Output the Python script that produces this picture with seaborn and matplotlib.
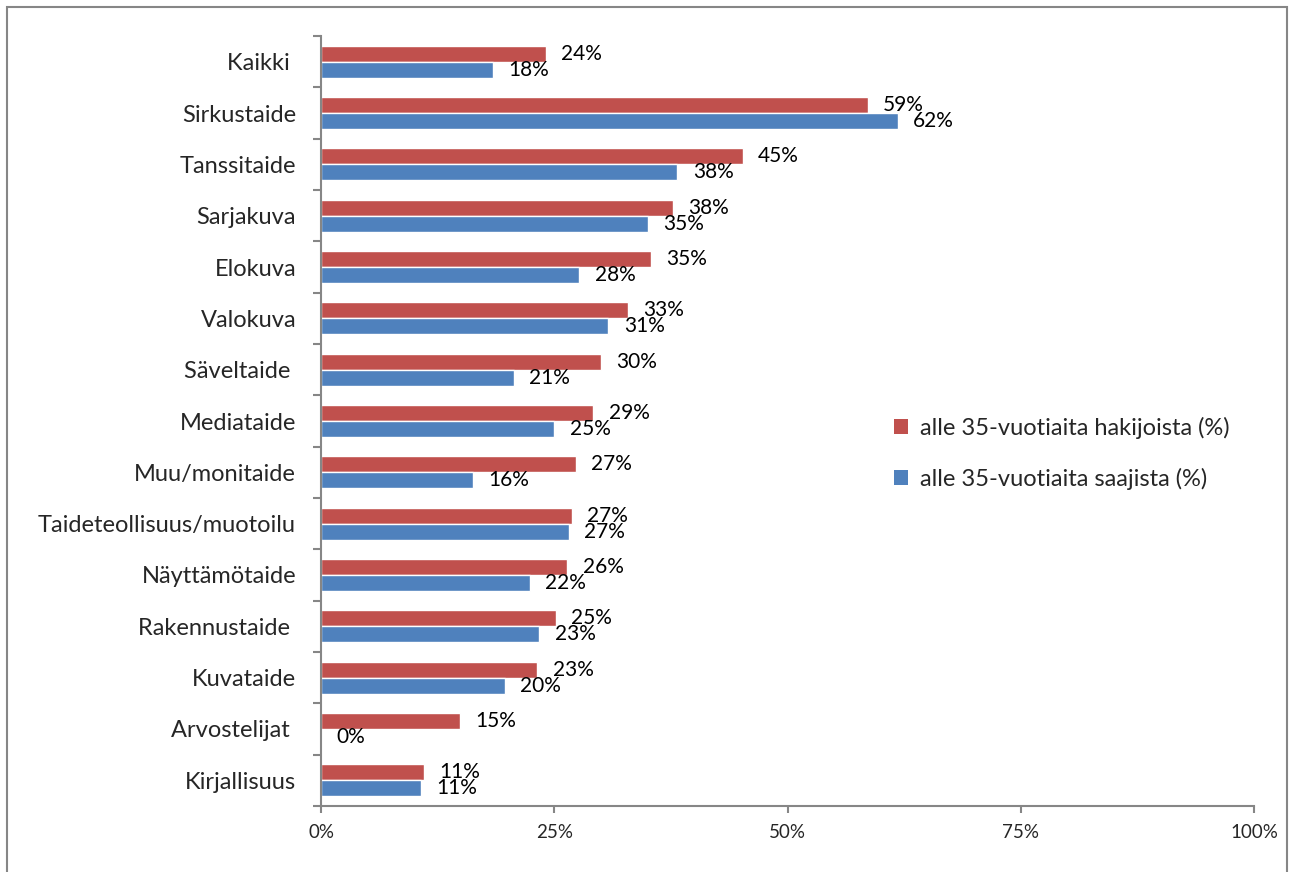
import pandas as pd
import seaborn as sns
import matplotlib.pyplot as plt
from matplotlib.patches import Patch, Rectangle
from matplotlib.ticker import FuncFormatter


# taiteenalat (ylhäältä alas)
alat = ["Kaikki ", "Sirkustaide", "Tanssitaide", "Sarjakuva", "Elokuva",
        "Valokuva", "Säveltaide ", "Mediataide", "Muu/monitaide",
        "Taideteollisuus/muotoilu", "Näyttämötaide", "Rakennustaide ",
        "Kuvataide", "Arvostelijat ", "Kirjallisuus"]
# alle 35-vuotiaita hakijoista (%)
hakijat = [24.1, 58.6, 45.2, 37.7, 35.4, 32.9, 30.0, 29.2, 27.3, 26.9,
           26.4, 25.2, 23.2, 14.9, 11.0]
# alle 35-vuotiaita saajista (%)
saajat = [18.4, 61.8, 38.2, 35.0, 27.7, 30.8, 20.7, 25.0, 16.3, 26.6,
          22.4, 23.4, 19.7, 0.0, 10.7]
sarjat = ["alle 35-vuotiaita hakijoista (%)", "alle 35-vuotiaita saajista (%)"]
varit = ["#C0504D", "#4F81BD"]

df = pd.concat([
    pd.DataFrame({"ala": alat, "osuus": hakijat, "sarja": sarjat[0]}),
    pd.DataFrame({"ala": alat, "osuus": saajat, "sarja": sarjat[1]}),
])

sns.set_style("white")
plt.rcParams['font.family'] = ['Lato', 'DejaVu Sans']

fig = plt.figure(figsize=(12.93, 8.72), dpi=100)
ax = fig.add_axes([0.2483, 0.0757, 0.7215, 0.883])

sns.barplot(data=df, x="osuus", y="ala", hue="sarja", hue_order=sarjat,
            palette=varit, orient="h", width=0.62, saturation=1,
            legend=False, ax=ax)

# arvot palkkien perään
for cont in ax.containers:
    ax.bar_label(cont, labels=[f"{b.get_width():.0f}%" for b in cont],
                 padding=11, fontsize=15, color="black")

ax.set_xlim(0, 100)
ax.set_ylim(len(alat) - 0.5, -0.5)
ax.set_xticks([0, 25, 50, 75, 100])
ax.xaxis.set_major_formatter(FuncFormatter(lambda v, p: f"{v:.0f}%"))
ax.set_xlabel("")
ax.set_ylabel("")

# Excel-tyyliset tikit luokkien rajoilla
ax.set_yticks(range(len(alat)))
ax.set_yticklabels(alat)
ax.set_yticks([i - 0.5 for i in range(len(alat) + 1)], minor=True)
ax.tick_params(axis="y", which="major", length=0, pad=18, labelsize=17)
ax.tick_params(axis="y", which="minor", length=6, width=1.5,
               color="#868686", direction="out", left=True)
ax.tick_params(axis="x", length=5, width=1.5, color="#868686",
               direction="out", bottom=True, labelsize=13.5, pad=8)

for s in ["top", "right"]:
    ax.spines[s].set_visible(False)
for s in ["left", "bottom"]:
    ax.spines[s].set_color("#868686")
    ax.spines[s].set_linewidth(1.5)

handles = [Patch(facecolor=c, edgecolor="none") for c in varit]
fig.legend(handles, sarjat, loc="upper left",
           bbox_to_anchor=(0.675, 0.546), frameon=False, fontsize=17,
           handlelength=0.6, handleheight=0.6, handletextpad=0.5,
           labelspacing=1.2)

# kaavion kehys
fig.add_artist(Rectangle((7 / 1293, -0.1), 1280 / 1293, 1.1 - 7 / 872,
                         transform=fig.transFigure, fill=False,
                         edgecolor="#868686", linewidth=1.5))

fig.savefig("out.png", dpi=100)
